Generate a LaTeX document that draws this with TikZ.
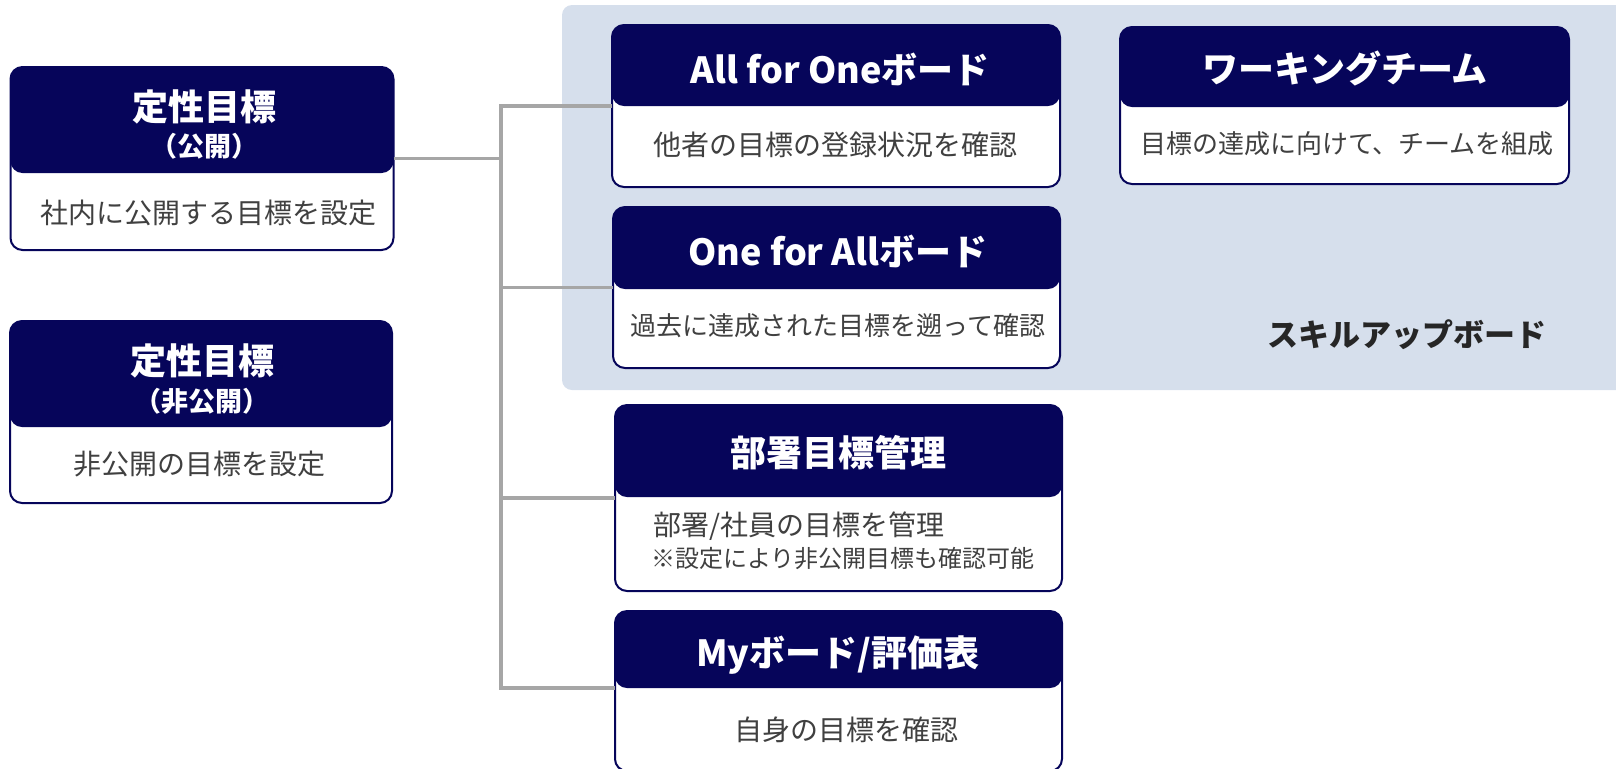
\documentclass[tikz,border=0pt]{standalone}
\usepackage{fontspec}
\setmainfont{Noto Sans CJK JP}
\usetikzlibrary{positioning}
\definecolor{navyhead}{RGB}{6,5,90}
\definecolor{skillblue}{RGB}{214,223,236}
\definecolor{linkgray}{RGB}{166,166,166}
\definecolor{bodygray}{RGB}{64,64,64}
\definecolor{labelgray}{RGB}{38,38,38}
\tikzstyle{link}     = [linkgray, line width=1.7pt]
\tikzstyle{skillbg}  = [fill=skillblue, rounded corners=5pt, inner sep=0pt]
\tikzstyle{title}    = [text=white, font=\bfseries\fontsize{18}{20}\selectfont]
\tikzstyle{paren}    = [text=white, font=\bfseries\fontsize{13.5}{15}\selectfont]
\tikzstyle{body}     = [text=bodygray, font=\fontsize{14}{16}\selectfont]
\tikzstyle{bodylong} = [text=bodygray, font=\fontsize{13}{15}\selectfont]
\tikzstyle{note}     = [text=bodygray, font=\fontsize{12}{14}\selectfont]
\tikzset{goal/.style={draw=navyhead, line width=1pt, fill=white, rounded corners=6pt,
    outer sep=0pt, inner sep=0pt,
    path picture={\fill[navyhead] (path picture bounding box.north west)
      rectangle ([yshift=-#1]path picture bounding box.north east);}}}

\begin{document}
\begin{tikzpicture}[x=0.5pt, y=-0.5pt]
      \useasboundingbox (0,0) rectangle (1616,768);
      % Skill-up area
      \node[skillbg, minimum width=534pt, minimum height=192.5pt] (skill) at (1096,197.5) {};
      \node[text=labelgray, font=\bfseries\fontsize{15.5}{17}\selectfont] (skilllabel) at (1407,335) {スキルアップボード};
      % Left boxes
      \node[goal=53pt, minimum width=191.5pt, minimum height=91.5pt] (pub) at (202,158.5) {};
      \node[title] (pubtitle) at (204,107) {定性目標};
      \node[paren] (pubparen) at (204,146) {（公開）};
      \node[body] (pubbody) at (208,213) {社内に公開する目標を設定};
      \node[goal=53pt, minimum width=191pt, minimum height=91pt] (priv) at (201,412) {};
      \node[title] (privtitle) at (202,361) {定性目標};
      \node[paren] (privparen) at (202,401) {（非公開）};
      \node[body] (privbody) at (199,464) {非公開の目標を設定};
      % Right boxes
      \node[goal=40.5pt, minimum width=224pt, minimum height=81pt] (aof) at (836,106) {};
      \node[title] (aoftitle) at (840,69) {All for Oneボード};
      \node[body] (aofbody) at (835,145) {他者の目標の登録状況を確認};
      \node[goal=40pt, minimum width=224.5pt, minimum height=78.5pt] (wt) at (1344.5,105.5) {};
      \node[title] (wttitle) at (1345,68) {ワーキングチーム};
      \node[bodylong] (wtbody) at (1347,144) {目標の達成に向けて、チームを組成};
      \node[goal=41pt, minimum width=223.5pt, minimum height=80.5pt] (ofa) at (836.5,287.5) {};
      \node[title] (ofatitle) at (838,251) {One for Allボード};
      \node[bodylong] (ofabody) at (838,326) {過去に達成された目標を遡って確認};
      \node[goal=46pt, minimum width=223.5pt, minimum height=93pt] (dept) at (838.5,498) {};
      \node[title] (depttitle) at (838,453) {部署目標管理};
      \node[body, anchor=west] (deptbody) at (646,526) {部署/社員の目標を管理};
      \node[note, anchor=west] (deptnote) at (644,558) {※設定により非公開目標も確認可能};
      \node[goal=38.5pt, minimum width=223.5pt, minimum height=80pt] (mine) at (838.5,691) {};
      \node[title] (minetitle) at (838,655) {Myボード/評価表};
      \node[body] (minebody) at (846,730) {自身の目標を確認};
      % Connectors
      \coordinate (trunk) at (501,0);
      \coordinate (minejoin) at ([yshift=-38.5pt]mine.north west);
      \draw[link] (pub.east) -- (pub.east -| trunk);
      \draw[link] (aof.west) -- (aof.west -| trunk) -- (minejoin -| trunk) -- (minejoin);
      \foreach \b in {ofa, dept}
        \draw[link] (\b.west -| trunk) -- (\b.west);
\end{tikzpicture}
\end{document}
